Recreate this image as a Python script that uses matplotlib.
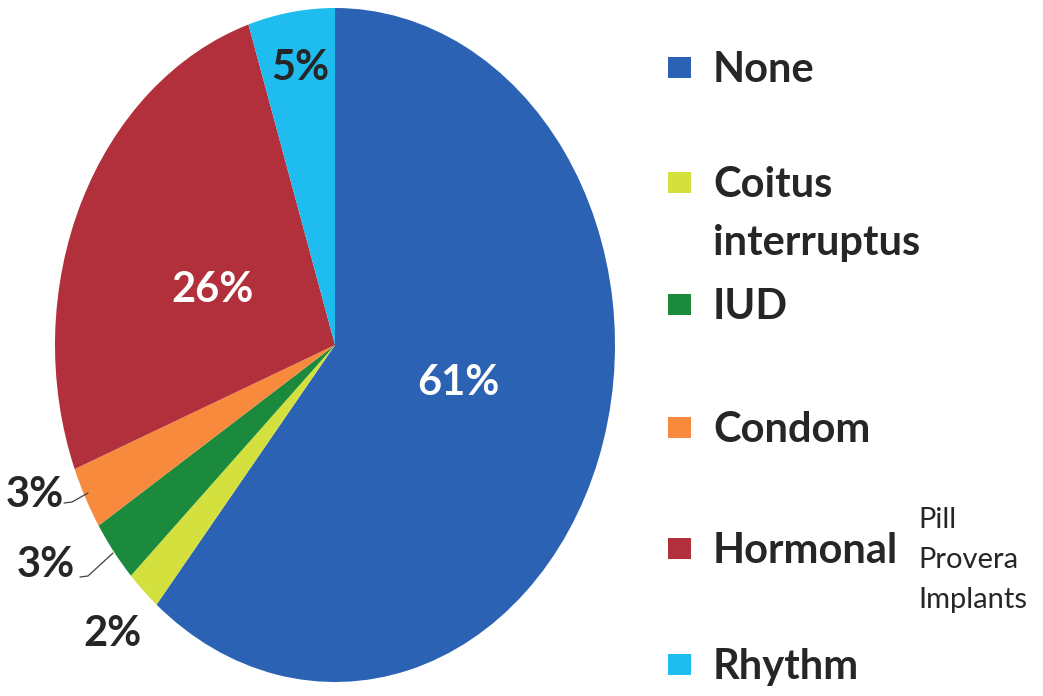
import matplotlib
matplotlib.use("Agg")
import matplotlib.pyplot as plt

categories = ["None", "Coitus\ninterruptus", "IUD", "Condom", "Hormonal", "Rhythm"]
values = [61, 2, 3, 3, 26, 5]
pct_labels = ["61%", "2%", "3%", "3%", "26%", "5%"]
hormonal_note = "Pill\nProvera\nImplants"
colors = ["#2b62b3", "#d4e03e", "#1b8a3c", "#f88a3e", "#b2303b", "#1fbcef"]

plt.rcParams['font.family'] = ['Lato', 'DejaVu Sans']

W, H = 1043, 696
fig = plt.figure(figsize=(W / 100, H / 100), dpi=100)
fig.patch.set_facecolor("white")

# pie axes (ellipse bounding box in pixels)
px_l, px_r, px_t, px_b = 55, 615, 8, 682
ax = fig.add_axes([px_l / W, 1 - px_b / H, (px_r - px_l) / W, (px_b - px_t) / H])
wedges, _ = ax.pie(values, colors=colors, startangle=90, counterclock=False,
                   radius=1.0, wedgeprops=dict(linewidth=0))
ax.set_aspect('auto')
ax.set_xlim(-1, 1)
ax.set_ylim(-1, 1)
ax.axis('off')

rx, ry = (px_r - px_l) / 2, (px_b - px_t) / 2


def d(px, py):
    return ((px - (px_l + rx)) / rx, ((px_t + ry) - py) / ry)


label_pos = [(458, 383), (112, 634), (46, 565), (35, 495), (213, 290), (300, 68)]
label_col = ["white", "#262626", "#262626", "#262626", "white", "#262626"]
for txt, (px, py), c in zip(pct_labels, label_pos, label_col):
    x, y = d(px, py)
    ax.text(x, y, txt, ha='center', va='center', fontsize=30, fontweight='bold',
            color=c)

# leader lines for small slices
leaders = [[(64, 503), (72, 502), (88, 493)], [(80, 577), (88, 576), (113, 553)]]
for pts in leaders:
    xs, ys = zip(*[d(*p) for p in pts])
    ax.plot(xs, ys, color="#404040", lw=0.9, solid_capstyle='round')

# legend
lax = fig.add_axes([0, 0, 1, 1])
lax.set_xlim(0, W)
lax.set_ylim(H, 0)
lax.axis('off')
leg_y = [68, 183, 305, 428, 549, 665]
for cat, c, y in zip(categories, colors, leg_y):
    lax.add_patch(plt.Rectangle((668, y - 11), 23, 21, color=c, lw=0))
    first = cat.split("\n")
    lax.text(713, y + 2, first[0], ha='left', va='center', fontsize=30,
             fontweight='bold', color="#262626")
    if len(first) > 1:
        lax.text(713, y + 60, first[1], ha='left', va='center', fontsize=30,
                 fontweight='bold', color="#262626")
lax.text(918, 560, hormonal_note, ha='left', va='center', fontsize=21,
         color="#262626", linespacing=1.65)

fig.savefig("out.png", dpi=100, facecolor="white")
